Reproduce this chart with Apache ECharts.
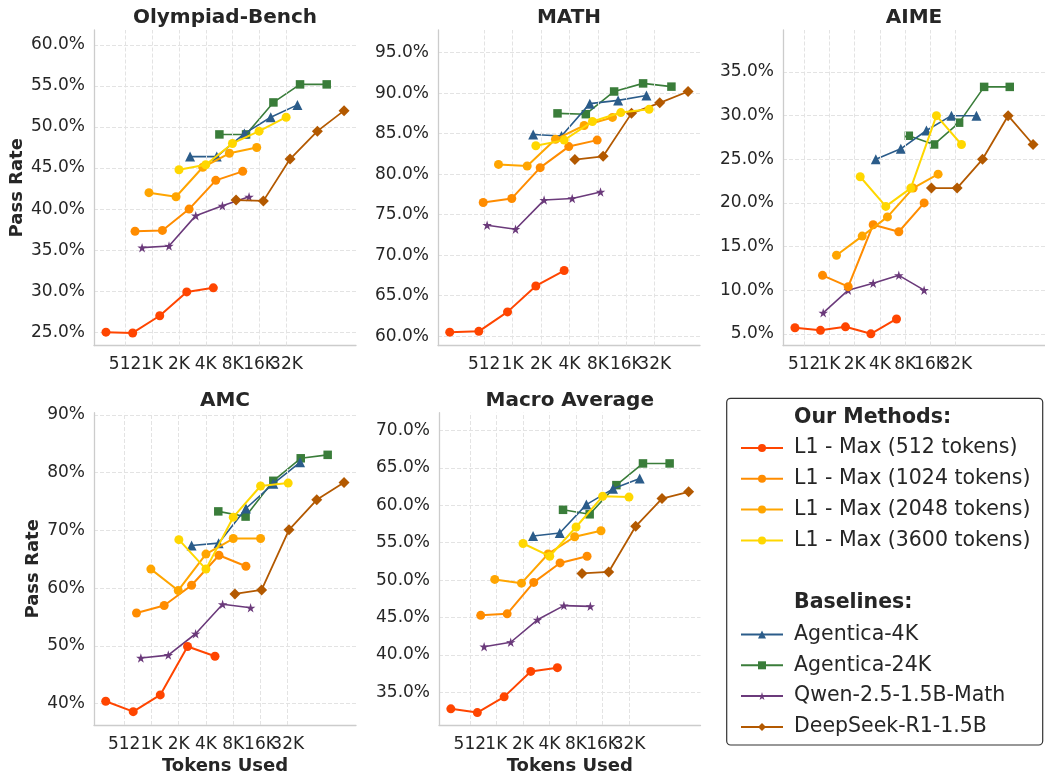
<!DOCTYPE html>
<html>
<head>
<meta charset="utf-8">
<script src="https://cdn.jsdelivr.net/npm/echarts@6/dist/echarts.min.js"></script>
<style>
    html, body { margin: 0; padding: 0; background: #fff; }
    #chart { width: 1045px; height: 776px; }
</style>
</head>
<body>
<div id="chart"></div>
<script>
// series order: L1 512, L1 1024, L1 2048, L1 3600, Agentica-4K, Agentica-24K, Qwen, DeepSeek
const methods = ['L1 - Max (512 tokens)', 'L1 - Max (1024 tokens)', 'L1 - Max (2048 tokens)', 'L1 - Max (3600 tokens)',
    'Agentica-4K', 'Agentica-24K', 'Qwen-2.5-1.5B-Math', 'DeepSeek-R1-1.5B'];
const benchmarks = ['Olympiad-Bench', 'MATH', 'AIME', 'AMC', 'Macro Average'];
const tickValues = [512, 1024, 2048, 4096, 8192, 16384, 32768];
const tickLabels = ['512', '1K', '2K', '4K', '8K', '16K', '32K'];

const olympiadTokens = [
    [313, 623, 1251, 2509, 4979],
    [662, 1340, 2667, 5300, 10620],
    [948, 1904, 3792, 7530, 15230],
    [2055, 4092, 8148, 16190, 32490],
    [2733, 5439, 11080, 21850, 43480],
    [5820, 11570, 23410, 46490, 92450],
    [794, 1589, 3166, 6288, 12500],
    [8940, 18080, 35940, 72700, 144500]
];
const olympiadPass = [
    [25.0, 24.9, 27.0, 29.9, 30.4],
    [37.3, 37.4, 40.0, 43.5, 44.6],
    [42.0, 41.5, 45.1, 46.8, 47.5],
    [44.8, 45.4, 48.0, 49.5, 51.2],
    [46.4, 46.4, 49.2, 51.2, 52.7],
    [49.1, 49.1, 53.0, 55.2, 55.2],
    [35.3, 35.5, 39.2, 40.4, 41.5],
    [41.1, 41.0, 46.1, 49.5, 52.0]
];

const mathTokens = [
    [221, 449, 905, 1805, 3601],
    [500, 1004, 2007, 4029, 8058],
    [726, 1461, 2913, 5860, 11690],
    [1805, 3601, 7178, 14330, 28570],
    [1692, 3375, 6727, 13430, 26780],
    [3061, 6107, 12180, 24690, 49260],
    [550, 1099, 2208, 4380, 8740],
    [4675, 9320, 18600, 37060, 73970]
];
const mathPass = [
    [60.5, 60.6, 63.0, 66.2, 68.1],
    [76.5, 77.0, 80.8, 83.4, 84.2],
    [81.2, 81.0, 84.3, 86.0, 87.0],
    [83.5, 84.2, 86.5, 87.6, 88.0],
    [84.9, 84.7, 88.7, 89.1, 89.7],
    [87.5, 87.4, 90.2, 91.2, 90.8],
    [73.7, 73.2, 76.8, 77.0, 77.8],
    [81.8, 82.2, 87.5, 88.8, 90.2]
];

const aimeTokens = [
    [397, 800, 1589, 3191, 6450],
    [846, 1713, 3398, 6870, 13760],
    [1242, 2515, 5030, 10190, 20200],
    [2380, 4805, 9550, 19300, 38350],
    [3655, 7260, 14670, 29120, 57900],
    [9040, 18100, 35960, 71480, 144400],
    [862, 1713, 3398, 6870, 13760],
    [16830, 34030, 68300, 138000, 273900]
];
const aimePass = [
    [5.7, 5.4, 5.8, 5.0, 6.7],
    [11.7, 10.4, 17.5, 16.7, 20.0],
    [14.0, 16.2, 18.4, 21.7, 23.3],
    [23.0, 19.6, 21.7, 30.0, 26.7],
    [25.0, 26.2, 28.3, 30.0, 30.0],
    [27.7, 26.7, 29.2, 33.3, 33.3],
    [7.4, 10.0, 10.8, 11.7, 10.0],
    [21.7, 21.7, 25.0, 30.0, 26.7]
];

const amcTokens = [
    [320, 644, 1281, 2565, 5154],
    [700, 1415, 2842, 5700, 11320],
    [1009, 2024, 4092, 8200, 16430],
    [2055, 4092, 8200, 16430, 33150],
    [2842, 5650, 11320, 22700, 44830],
    [5603, 11220, 22700, 45610, 90500],
    [782, 1571, 3148, 6258, 12750],
    [8560, 16860, 33840, 68500, 137200]
];
const amcPass = [
    [40.4, 38.6, 41.5, 49.9, 48.2],
    [55.7, 57.0, 60.5, 65.7, 63.8],
    [63.3, 59.6, 65.9, 68.6, 68.6],
    [68.4, 63.3, 72.3, 77.7, 78.2],
    [67.4, 67.8, 73.8, 78.1, 81.8],
    [73.3, 72.4, 78.6, 82.5, 83.1],
    [47.9, 48.4, 52.1, 57.2, 56.6],
    [59.0, 59.7, 70.1, 75.3, 78.3]
];

const macroTokens = [
    [312, 623, 1254, 2515, 5040],
    [681, 1357, 2716, 5403, 10940],
    [982, 1974, 3953, 7920, 15740],
    [2057, 4126, 8210, 16430, 32700],
    [2671, 5363, 10740, 21550, 43270],
    [5840, 11710, 23530, 47110, 94500],
    [744, 1490, 2993, 5975, 11920],
    [9590, 19230, 38930, 77400, 155100]
];
const macroPass = [
    [32.8, 32.3, 34.4, 37.8, 38.3],
    [45.3, 45.5, 49.7, 52.3, 53.2],
    [50.1, 49.6, 53.5, 55.8, 56.6],
    [54.9, 53.2, 57.1, 61.2, 61.1],
    [55.9, 56.3, 60.1, 62.2, 63.6],
    [59.4, 58.8, 62.7, 65.6, 65.6],
    [41.1, 41.7, 44.7, 46.6, 46.5],
    [50.9, 51.1, 57.2, 60.9, 61.8]
];

const allTokens = [olympiadTokens, mathTokens, aimeTokens, amcTokens, macroTokens];
const allPass = [olympiadPass, mathPass, aimePass, amcPass, macroPass];

// layout of each panel
const grids = [
    { left: 94, top: 30, width: 262, height: 315.5 },
    { left: 438, top: 30, width: 262, height: 315.5 },
    { left: 783, top: 30, width: 262, height: 315.5 },
    { left: 94, top: 412.7, width: 262, height: 315.6 },
    { left: 439, top: 412.7, width: 261.5, height: 315.6 }
];
const xRanges = [[230, 196600], [166, 98900], [286, 379900], [237.5, 186000], [229, 211600]];
const yRanges = [[23.37, 61.83], [58.85, 97.79], [3.66, 39.82], [36.29, 90.4], [30.64, 72.38]];
const ySteps = [5, 5, 5, 10, 5];
const yDecimals = [1, 1, 1, 0, 1];

const colors = ['#FF4500', '#FF8C00', '#FFA500', '#FFD700', '#2B5C8A', '#3A7D3A', '#6B3A7B', '#B35900'];
const starPath = 'path://M50 0 L61.2 34.6 L97.6 34.5 L68.1 55.9 L79.4 90.5 L50 69 L20.6 90.5 L31.9 55.9 L2.4 34.5 L38.8 34.6 Z';
const symbols = ['circle', 'circle', 'circle', 'circle', 'triangle', 'rect', starPath, 'diamond'];
const symbolSizes = [9, 9, 9, 9, 10, 8.5, 9.5, 11];
const lineWidths = [2, 2, 2, 2, 1.6, 1.6, 1.6, 1.8];
const drawOrder = [5, 4, 6, 7, 0, 1, 2, 3];

const font = '"DejaVu Sans", sans-serif';
const textColor = '#262626';
const gridColor = '#e3e3e3';
const spineColor = '#cccccc';

// exponents (base 2) of the labelled ticks, used by the helper axis that carries labels + grid
const tickExps = tickValues.map(function (t) { return Math.log2(t); });

const chart = echarts.init(document.getElementById('chart'));

const legendText = { fontSize: 20.5, lineHeight: 21, color: textColor, fontFamily: font, padding: [0, 0, 0, 6] };

const option = {
    animation: false,
    textStyle: { fontFamily: font, color: textColor },
    grid: [],
    xAxis: [],
    yAxis: [],
    series: [],
    legend: [
        {
            data: methods.slice(0, 4),
            orient: 'vertical', left: 735, top: 432.5,
            itemWidth: 42, itemHeight: 10, itemGap: 9.8,
            textStyle: legendText, selectedMode: false
        },
        {
            data: methods.slice(4),
            orient: 'vertical', left: 735, top: 619,
            itemWidth: 42, itemHeight: 10, itemGap: 9.8,
            textStyle: legendText, selectedMode: false
        }
    ],
    graphic: [
        {
            type: 'rect', z: 0,
            shape: { x: 726.7, y: 398.3, width: 316, height: 346.7, r: 4 },
            style: { fill: '#fff', stroke: '#333', lineWidth: 1.2 }
        },
        {
            type: 'text', z: 5, x: 794, y: 417.5,
            style: { text: 'Our Methods:', font: 'bold 20.5px ' + font, fill: textColor, verticalAlign: 'middle' }
        },
        {
            type: 'text', z: 5, x: 794, y: 602.5,
            style: { text: 'Baselines:', font: 'bold 20.5px ' + font, fill: textColor, verticalAlign: 'middle' }
        }
    ]
};

benchmarks.forEach(function (name, i) {
    const g = grids[i];
    option.grid.push({ left: g.left, top: g.top, width: g.width, height: g.height, containLabel: false });
    option.graphic.push({
        type: 'text', x: g.left + g.width / 2, y: g.top - 12,
        style: { text: name, font: 'bold 20px ' + font, fill: textColor, align: 'center', verticalAlign: 'middle' }
    });

    // data axis: base-2 log scale of tokens
    option.xAxis.push({
        type: 'log', logBase: 2, gridIndex: i, position: 'bottom',
        min: xRanges[i][0], max: xRanges[i][1],
        axisLine: { show: true, lineStyle: { color: spineColor, width: 1.3 } },
        axisTick: { show: false },
        splitLine: { show: false },
        axisLabel: { show: false }
    });
    // helper axis on the same span (in powers of two) for tick labels only
    option.xAxis.push({
        type: 'value', gridIndex: i, position: 'bottom',
        min: Math.log2(xRanges[i][0]), max: Math.log2(xRanges[i][1]),
        minInterval: 1, maxInterval: 1, splitNumber: 10,
        name: i >= 3 ? 'Tokens Used' : '',
        nameLocation: 'middle', nameGap: 32,
        nameTextStyle: { fontSize: 18, fontWeight: 'bold', color: textColor },
        axisLine: { show: false },
        axisTick: { show: false },
        splitLine: { show: false },
        axisLabel: {
            fontSize: 17, color: textColor, margin: 11, hideOverlap: false,
            showMinLabel: false, showMaxLabel: false,
            formatter: function (v) {
                for (let k = 0; k < tickExps.length; k++) {
                    if (Math.abs(v - tickExps[k]) < 1e-6) return tickLabels[k];
                }
                return '';
            }
        }
    });

    const step = ySteps[i];
    option.yAxis.push({
        type: 'value', gridIndex: i,
        min: yRanges[i][0], max: yRanges[i][1],
        minInterval: step, maxInterval: step, splitNumber: 8,
        name: (i === 0 || i === 3) ? 'Pass Rate' : '',
        nameLocation: 'middle', nameGap: i === 0 ? 68 : 52,
        nameTextStyle: { fontSize: 18, fontWeight: 'bold', color: textColor },
        axisLine: { show: true, lineStyle: { color: spineColor, width: 1.3 } },
        axisTick: { show: false },
        splitLine: { show: true, showMinLine: false, showMaxLine: false, lineStyle: { color: gridColor, type: [4, 2], width: 1 } },
        axisLabel: {
            fontSize: 17, color: textColor, margin: 9, hideOverlap: false,
            showMinLabel: false, showMaxLabel: false,
            formatter: function (v) {
                if (Math.abs(v / step - Math.round(v / step)) > 1e-6) return '';
                return v.toFixed(yDecimals[i]) + '%';
            }
        }
    });

    // vertical grid lines only at the labelled token ticks
    option.series.push({
        type: 'line', xAxisIndex: 2 * i + 1, yAxisIndex: i, data: [], z: 1, silent: true,
        markLine: {
            silent: true, symbol: 'none', label: { show: false }, precision: 6,
            lineStyle: { color: gridColor, type: [4, 2], width: 1 },
            emphasis: { disabled: true },
            data: tickExps.map(function (e) { return { xAxis: e }; })
        }
    });

    drawOrder.forEach(function (m, k) {
        const xs = allTokens[i][m];
        const ys = allPass[i][m];
        option.series.push({
            name: methods[m],
            type: 'line', xAxisIndex: 2 * i, yAxisIndex: i, z: 3 + k,
            data: xs.map(function (x, j) { return [x, ys[j]]; }),
            symbol: symbols[m], symbolSize: symbolSizes[m],
            showAllSymbol: true,
            lineStyle: { color: colors[m], width: lineWidths[m] },
            itemStyle: { color: colors[m] },
            emphasis: { disabled: true }
        });
    });
});

chart.setOption(option);
</script>
</body>
</html>
